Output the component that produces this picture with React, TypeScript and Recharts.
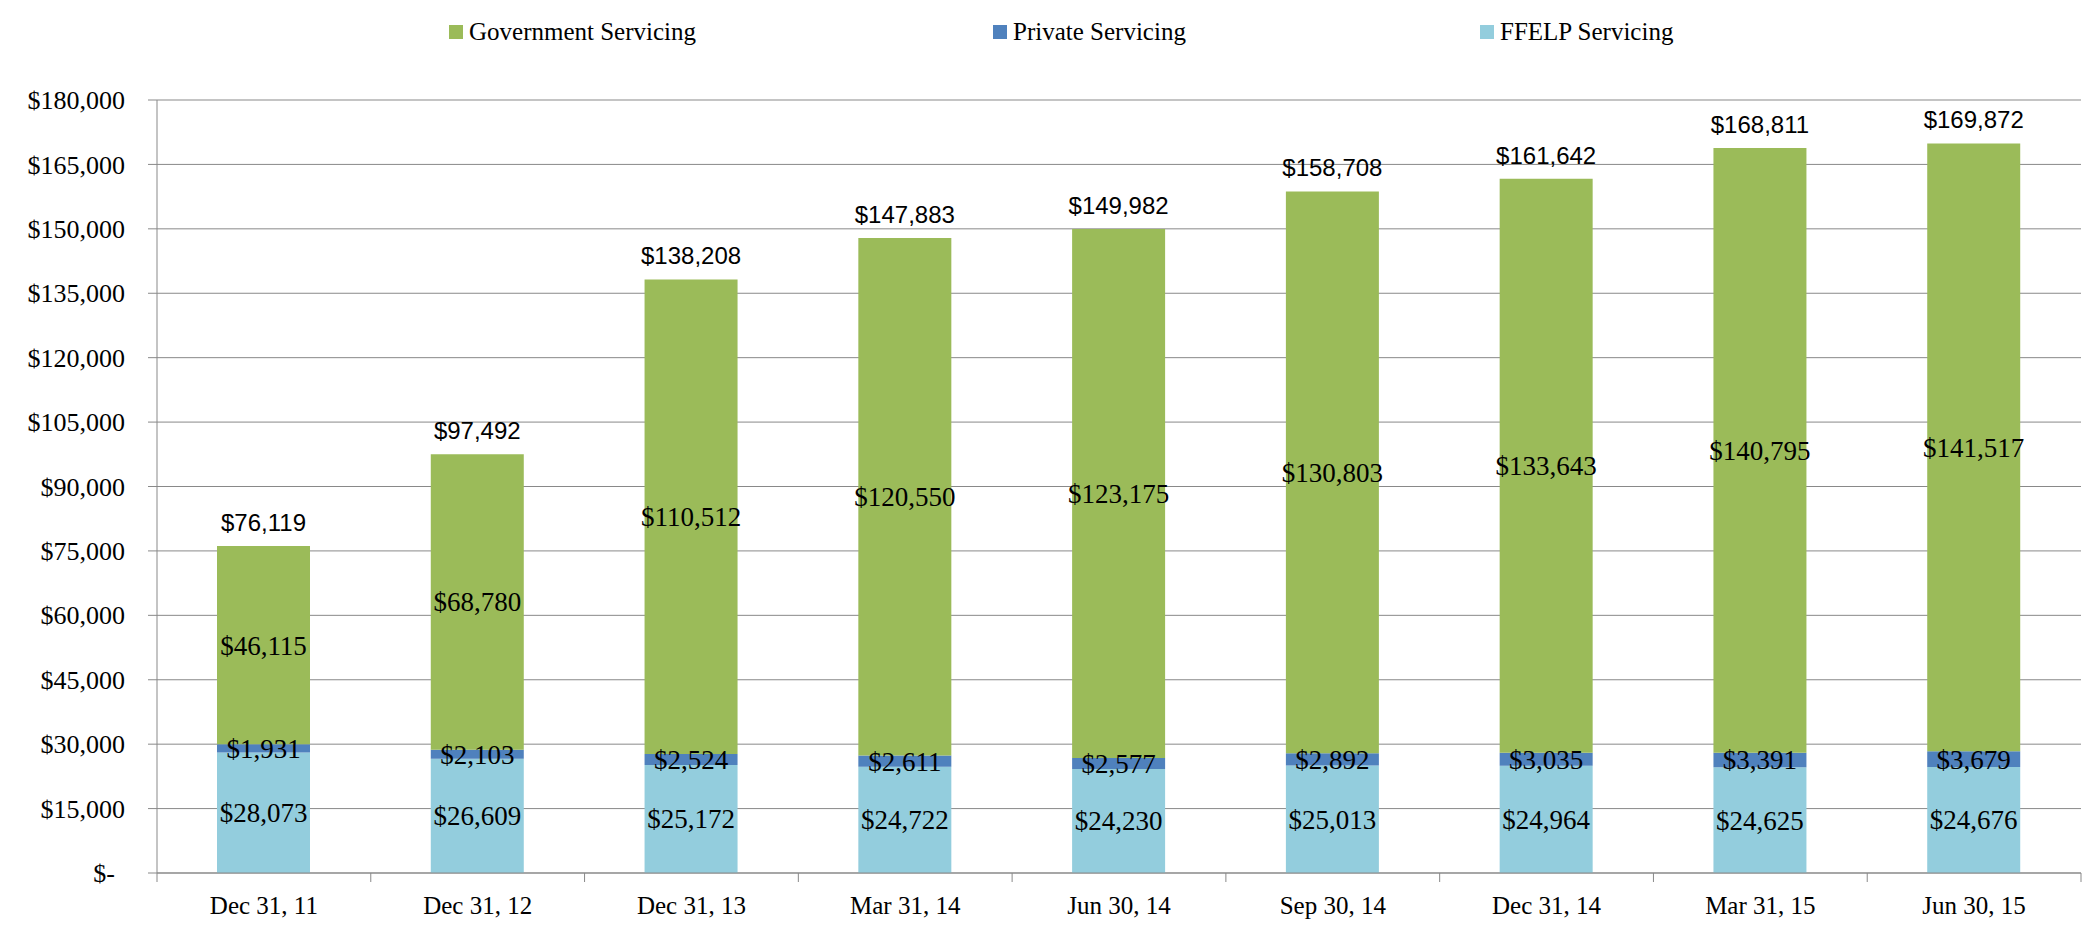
import React from "react";
import {
  ComposedChart,
  Bar,
  XAxis,
  YAxis,
  CartesianGrid,
  LabelList,
} from "recharts";

const categories = [
  "Dec 31, 11",
  "Dec 31, 12",
  "Dec 31, 13",
  "Mar 31, 14",
  "Jun 30, 14",
  "Sep 30, 14",
  "Dec 31, 14",
  "Mar 31, 15",
  "Jun 30, 15",
];
const ffelp = [28073, 26609, 25172, 24722, 24230, 25013, 24964, 24625, 24676];
const privateServ = [1931, 2103, 2524, 2611, 2577, 2892, 3035, 3391, 3679];
const government = [46115, 68780, 110512, 120550, 123175, 130803, 133643, 140795, 141517];
const totals = [76119, 97492, 138208, 147883, 149982, 158708, 161642, 168811, 169872];
const yTicks = [0, 15000, 30000, 45000, 60000, 75000, 90000, 105000, 120000, 135000, 150000, 165000, 180000];

const legendItems = [
  { name: "Government Servicing", color: "#9BBB59", left: 449 },
  { name: "Private Servicing", color: "#4F81BD", left: 993 },
  { name: "FFELP Servicing", color: "#93CDDD", left: 1480 },
];

const data = categories.map((name, i) => ({
  name,
  ffelp: ffelp[i],
  priv: privateServ[i],
  gov: government[i],
  total: totals[i],
}));

const W = 2100;
const H = 947;
const MARGIN = { top: 100, right: 19, bottom: 0, left: 0 };
const Y_AXIS_W = 157;
const X_AXIS_H = 74;
const CAT_W = (W - MARGIN.left - MARGIN.right - Y_AXIS_W) / categories.length;
const GRID = "#898989";
const SERIF = "'Liberation Serif', 'DejaVu Serif', serif";
const SANS = "'Liberation Sans', Arial, sans-serif";

const money = (v: number) => "$" + v.toLocaleString("en-US");

function XTick(props: any) {
  const { x, y, payload, index } = props;
  const left = x - CAT_W / 2;
  return (
    <g>
      <line x1={left} x2={left} y1={y} y2={y + 9} stroke={GRID} />
      {index === categories.length - 1 && (
        <line x1={x + CAT_W / 2} x2={x + CAT_W / 2} y1={y} y2={y + 9} stroke={GRID} />
      )}
      <text x={x} y={y + 41} textAnchor="middle" fontFamily={SERIF} fontSize={25} fill="#000">
        {payload.value}
      </text>
    </g>
  );
}

function YTick(props: any) {
  const { x, y, payload } = props;
  const zero = payload.value === 0;
  return (
    <text
      x={zero ? x - 10 : x}
      y={y}
      dy="0.35em"
      textAnchor="end"
      fontFamily={SERIF}
      fontSize={26}
      fill="#000"
    >
      {zero ? "$-" : money(payload.value)}
    </text>
  );
}

function CenterLabel(props: any) {
  const x = Number(props.x);
  const y = Number(props.y);
  const width = Number(props.width);
  const height = Number(props.height);
  return (
    <text
      x={x + width / 2}
      y={y + height / 2}
      dy="0.35em"
      textAnchor="middle"
      fontFamily={SERIF}
      fontSize={27}
      fill="#000"
    >
      {money(Number(props.value))}
    </text>
  );
}

function TotalLabel(props: any) {
  const x = Number(props.x);
  const y = Number(props.y);
  const width = Number(props.width);
  return (
    <text x={x + width / 2} y={y - 15} textAnchor="middle" fontFamily={SANS} fontSize={24} fill="#000">
      {money(Number(props.value))}
    </text>
  );
}

export default function App() {
  return (
    <div style={{ position: "absolute", top: 0, left: 0, width: W, height: H, background: "#fff" }}>
      {legendItems.map((item) => (
        <div
          key={item.name}
          style={{
            position: "absolute",
            top: 14,
            left: item.left,
            display: "flex",
            alignItems: "center",
            fontFamily: SERIF,
            fontSize: 25,
            color: "#000",
            lineHeight: "36px",
            whiteSpace: "nowrap",
          }}
        >
          <span
            style={{ display: "inline-block", width: 14, height: 14, background: item.color, marginRight: 6 }}
          />
          {item.name}
        </div>
      ))}
      <ComposedChart width={W} height={H} data={data} margin={MARGIN}>
        <CartesianGrid vertical={false} stroke={GRID} />
        <XAxis
          dataKey="name"
          height={X_AXIS_H}
          tickSize={0}
          tickMargin={0}
          tickLine={false}
          axisLine={{ stroke: GRID }}
          tick={<XTick />}
          interval={0}
        />
        <YAxis
          width={Y_AXIS_W}
          domain={[0, 180000]}
          ticks={yTicks}
          tickSize={9}
          tickMargin={23}
          tickLine={{ stroke: GRID }}
          axisLine={{ stroke: GRID }}
          tick={<YTick />}
          interval={0}
        />
        <Bar dataKey="ffelp" stackId="a" fill="#93CDDD" barSize={93} isAnimationActive={false}>
          <LabelList dataKey="ffelp" content={<CenterLabel />} />
        </Bar>
        <Bar dataKey="priv" stackId="a" fill="#4F81BD" barSize={93} isAnimationActive={false}>
          <LabelList dataKey="priv" content={<CenterLabel />} />
        </Bar>
        <Bar dataKey="gov" stackId="a" fill="#9BBB59" barSize={93} isAnimationActive={false}>
          <LabelList dataKey="gov" content={<CenterLabel />} />
          <LabelList dataKey="total" content={<TotalLabel />} />
        </Bar>
      </ComposedChart>
    </div>
  );
}
